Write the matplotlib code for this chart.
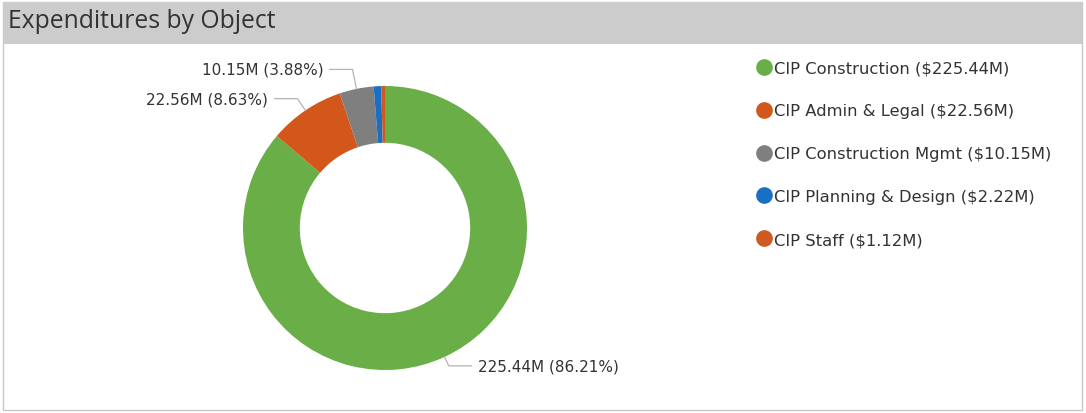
import numpy as np
import matplotlib.pyplot as plt
from matplotlib.patches import Rectangle
from matplotlib.lines import Line2D

# data
categories = ["CIP Construction", "CIP Admin & Legal", "CIP Construction Mgmt",
              "CIP Planning & Design", "CIP Staff"]
values = [225.44, 22.56, 10.15, 2.22, 1.12]
colors = ["#6AAE47", "#D3561B", "#7F7F7F", "#1A6FC4", "#CE5A22"]
title = "Expenditures by Object"

W, H = 1086, 414
fig = plt.figure(figsize=(W / 100, H / 100), dpi=100, facecolor="white")

# panel frame and header band
fig.patches.append(Rectangle((3 / W, 3 / H), 1079 / W, 408 / H, transform=fig.transFigure,
                             facecolor="none", edgecolor="#C8C8C8", lw=1, zorder=-2))
fig.patches.append(Rectangle((3 / W, (H - 45) / H), 1079 / W, 42 / H, transform=fig.transFigure,
                             facecolor="#CCCCCC", edgecolor="none", zorder=-1))
fig.text(8 / W, (H - 21) / H, title, fontsize=17.8, color="#333333",
         family="Open Sans", va="center", ha="left")

# donut
r_px = 142
cx, cy = 385, H - 229
ax = fig.add_axes([(cx - r_px) / W, (cy - r_px) / H, 2 * r_px / W, 2 * r_px / H])
ax.set_zorder(2)
wedges, _ = ax.pie(values, colors=colors, startangle=90, counterclock=False,
                   radius=1, wedgeprops=dict(width=0.4, edgecolor="none"))
ax.set_xlim(-1, 1)
ax.set_ylim(-1, 1)
ax.set_aspect("equal")
ax.axis("off")

# leader lines + data labels for the three largest slices
total = sum(values)
elbow = [1.07, 1.1, 1.14]
for i in range(3):
    w = wedges[i]
    ang = np.deg2rad((w.theta1 + w.theta2) / 2)
    x0, y0 = np.cos(ang), np.sin(ang)
    x1, y1 = elbow[i] * x0, elbow[i] * y0
    side = 1 if x0 > 0 else -1
    x2 = x1 + side * 0.16
    ax.plot([x0, x1, x2], [y0, y1, y1], color="#B4B4B4", lw=0.9, clip_on=False)
    txt = f"{values[i]:.2f}M ({values[i] / total * 100:.2f}%)"
    ax.text(x2 + side * 0.045, y1, txt, fontsize=11, color="#333333",
            ha="left" if side > 0 else "right", va="center", clip_on=False)

# legend
handles = [Line2D([], [], marker="o", ls="none", markersize=11, markerfacecolor=c,
                  markeredgecolor=c) for c in colors]
labels = [f"{c} (${v:.2f}M)" for c, v in zip(categories, values)]
fig.legend(handles, labels, loc="upper left", bbox_to_anchor=(749 / W, (H - 55) / H),
           frameon=False, fontsize=11.8, labelspacing=1.7, handletextpad=0.1,
           handlelength=1.05, labelcolor="#333333", borderaxespad=0)

fig.savefig("out.png", dpi=100)
